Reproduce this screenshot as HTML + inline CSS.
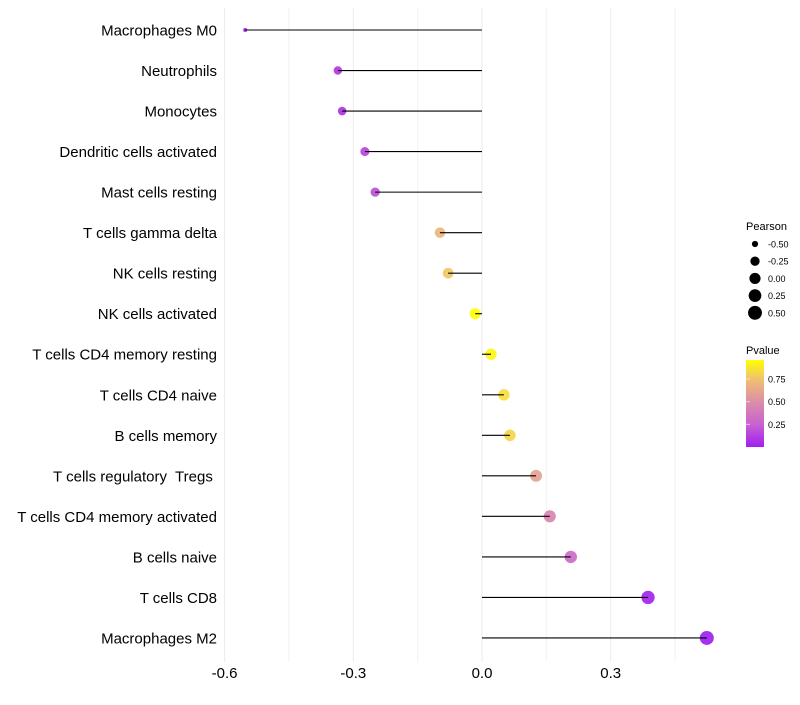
<!DOCTYPE html>
<html><head><meta charset="utf-8"><style>
body{margin:0;background:#fff;}
text{font-family:"Liberation Sans",sans-serif;white-space:pre;}
</style></head><body>
<svg id="chart" width="800" height="700" xmlns="http://www.w3.org/2000/svg">
<g id="grid"></g>
<g id="marks"></g>
<g id="ylabels"></g>
<g id="xlabels"></g>
<g id="sizeLegend">
<text x="746" y="230" font-size="11">Pearson</text>
</g>
<g id="colorLegend">
<text x="746" y="354" font-size="11">Pvalue</text>
<defs><linearGradient id="pg" x1="0" y1="1" x2="0" y2="0">
<stop offset="0" stop-color="#a01ff0"/><stop offset="0.26" stop-color="#c862d0"/>
<stop offset="0.52" stop-color="#dc8ea8"/><stop offset="0.78" stop-color="#f0c070"/>
<stop offset="1" stop-color="#ffff00"/></linearGradient></defs>
<rect x="746" y="360" width="18" height="87" fill="url(#pg)"/>
</g>
</svg>
<script>
const categories=["Macrophages M0","Neutrophils","Monocytes","Dendritic cells activated","Mast cells resting","T cells gamma delta","NK cells resting","NK cells activated","T cells CD4 memory resting","T cells CD4 naive","B cells memory","T cells regulatory  Tregs ","T cells CD4 memory activated","B cells naive","T cells CD8","Macrophages M2"];
const pearson=[-0.552,-0.336,-0.326,-0.273,-0.249,-0.098,-0.079,-0.016,0.021,0.051,0.065,0.126,0.158,0.207,0.387,0.524];
const pvalues=[0.0,0.1,0.08,0.15,0.18,0.7,0.77,0.96,0.93,0.85,0.82,0.6,0.45,0.3,0.02,0.0];
const xTicks=[-0.6,-0.3,0.0,0.3];
const xTickLabels=["-0.6","-0.3","0.0","0.3"];
const sizeLegendValues=[-0.5,-0.25,0,0.25,0.5];
const sizeLegendLabels=["-0.50","-0.25","0.00","0.25","0.50"];
const colorLegendValues=[0.75,0.5,0.25];
const colorLegendLabels=["0.75","0.50","0.25"];

const NS="http://www.w3.org/2000/svg";
const x=v=>482+v*429;
const y=i=>30+i*40.53;
const r=v=>2+5*Math.sqrt(Math.max(0,(v+0.552)/1.076));
const stops=[[0,[160,31,240]],[0.25,[200,98,208]],[0.5,[220,142,168]],[0.75,[240,192,112]],[0.96,[255,255,0]]];
function col(p){p=Math.min(0.96,Math.max(0,p));for(let k=1;k<stops.length;k++){if(p<=stops[k][0]){const a=stops[k-1],b=stops[k],t=(p-a[0])/(b[0]-a[0]);return 'rgb('+a[1].map((c,j)=>Math.round(c+(b[1][j]-c)*t)).join(',')+')';}}return 'rgb(255,255,0)';}
function mk(tag,attrs,parent){const e=document.createElementNS(NS,tag);for(const k in attrs)e.setAttribute(k,attrs[k]);parent.appendChild(e);return e;}
const grid=document.getElementById('grid'),marks=document.getElementById('marks'),yl=document.getElementById('ylabels'),xl=document.getElementById('xlabels');
for(let k=0;k<xTicks.length;k++){
 const g=mk('line',{x1:x(xTicks[k]),x2:x(xTicks[k]),y1:8,y2:662,stroke:'#ebebeb','stroke-width':1},grid);
 
 
 const m=mk('line',{x1:x(xTicks[k]+0.15),x2:x(xTicks[k]+0.15),y1:8,y2:662,stroke:'#f2f2f2','stroke-width':1},grid);
 
 
 const t=mk('text',{x:x(xTicks[k]),y:678,'font-size':15,'text-anchor':'middle',fill:'#000'},xl);
 t.textContent=xTickLabels[k];
 
 
}
categories.forEach((c,i)=>{
 const cy=y(i);
 const dot=mk('circle',{cx:x(pearson[i]),cy:cy,r:r(pearson[i]),fill:col(pvalues[i]),'fill-opacity':0.92},marks);
 
 
 const ln=mk('line',{x1:x(0),x2:x(pearson[i]),y1:cy,y2:cy,stroke:'#000','stroke-width':1.1},marks);
 
 
 const t=mk('text',{x:217,y:cy+5.5,'font-size':15,'text-anchor':'end',fill:'#000'},yl);
 t.textContent=c;
 
 
});
const sl=document.getElementById('sizeLegend');
sizeLegendValues.forEach((v,k)=>{
 const cy=244+k*17.2;
 const d=mk('circle',{cx:755,cy:cy,r:r(v),fill:'#000'},sl);
 
 
 const t=mk('text',{x:768,y:cy+3.5,'font-size':9},sl);
 t.textContent=sizeLegendLabels[k];
 
 
});
const cl=document.getElementById('colorLegend');
colorLegendValues.forEach((v,k)=>{
 const cy=447-v/0.96*87;
 const t=mk('text',{x:768,y:cy+3.5,'font-size':9},cl);
 t.textContent=colorLegendLabels[k];
 
 
 const tk=mk('line',{x1:746,x2:750,y1:cy,y2:cy,stroke:'#fff','stroke-opacity':0.6},cl);
 
 
});
</script>
</body></html>
